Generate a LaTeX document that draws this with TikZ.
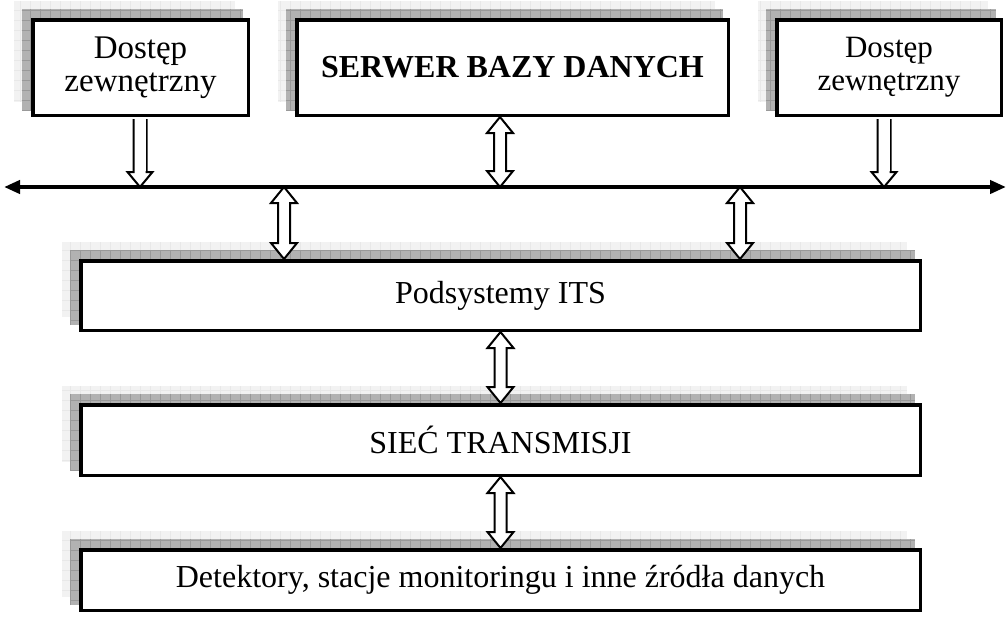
\documentclass[tikz,border=0pt]{standalone}
\usepackage{fontspec}
\setmainfont{Liberation Serif}
\usetikzlibrary{arrows.meta,calc,backgrounds}
\newcommand{\hollowdown}[2]{% #1 start (top), #2 tip
  \draw[harrow] let \p1=(#1), \p2=(#2) in
    (\x1-6.5pt,\y1-2pt) -- (\x1-6.5pt,\y2+15pt) -- (\x1-12.5pt,\y2+15pt) -- (\x1,\y2)
    -- (\x1+12.5pt,\y2+15pt) -- (\x1+6.5pt,\y2+15pt) -- (\x1+6.5pt,\y1-2pt);
  \fill[white] let \p1=(#1), \p2=(#2) in
    (\x1-5.5pt,\y1-2.2pt) rectangle (\x1+5.5pt,\y2+16pt);
}
\newcommand{\hollowboth}[2]{% #1 top tip, #2 bottom tip
  \draw[harrow] let \p1=(#1), \p2=(#2) in
    (\x1,\y1) -- (\x1+13pt,\y1-16pt) -- (\x1+6pt,\y1-16pt) -- (\x1+6pt,\y2+16pt)
    -- (\x1+13pt,\y2+16pt) -- (\x1,\y2) -- (\x1-13pt,\y2+16pt) -- (\x1-6pt,\y2+16pt)
    -- (\x1-6pt,\y1-16pt) -- (\x1-13pt,\y1-16pt) -- cycle;
}
\newcommand{\boxshadow}[1]{%
  \fill[lightshadow] ($(#1.north west)+(-17,-17)$) rectangle ($(#1.south east)+(-15,-15)$);
  \draw[lightgrid] ($(#1.north west)+(-17,-17)$) grid ($(#1.south east)+(-15,-15)$);
  \fill[darkshadow] ($(#1.north west)+(-9,-9)$) rectangle ($(#1.south east)+(-7,-7)$);
  \draw[darkgrid] ($(#1.north west)+(-9,-9)$) grid ($(#1.south east)+(-7,-7)$);
}
\begin{document}
\begin{tikzpicture}[x=1pt,y=-1pt,
  box/.style={draw=black, line width=3.5pt, fill=white, rectangle, inner sep=0pt,
    align=center, font=\fontsize{32}{33}\selectfont},
  topbox/.style={box, minimum height=95.5pt},
  wide/.style={box, minimum width=839.5pt},
  lightshadow/.style={fill=black!5},
  lightgrid/.style={draw=black!9, line width=0.4pt, step=10pt},
  darkshadow/.style={fill=black!30},
  darkgrid/.style={draw=black!40, line width=0.4pt, step=10pt},
  harrow/.style={draw=black, fill=white, line width=2pt, line join=miter},
  bus/.style={draw=black, line width=4pt, {Triangle[length=16pt,width=13pt]}-{Triangle[length=16pt,width=13pt]}}
]
\useasboundingbox (0,0) rectangle (1008,616);
\node[topbox, minimum width=215.5pt, font=\fontsize{33}{33}\selectfont] (b1) at (140.5,67.5) {Dostęp\\zewnętrzny};
\node[topbox, minimum width=431.5pt, font=\bfseries\fontsize{32}{33}\selectfont] (b2) at (512.5,67.5) {SERWER BAZY DANYCH};
\node[topbox, minimum width=224.5pt, font=\fontsize{31}{33}\selectfont] (b3) at (889,67.5) {Dostęp\\zewnętrzny};
\node[wide, minimum height=69.5pt] (b4) at (500.5,295.5) {Podsystemy ITS};
\node[wide, minimum height=70.5pt] (b5) at (500.5,440) {SIEĆ TRANSMISJI};
\node[wide, minimum height=60.5pt] (b6) at (500.5,580) {\raisebox{-3pt}{Detektory, stacje monitoringu i inne źródła danych}};
\begin{scope}[on background layer]
  \boxshadow{b1}
  \boxshadow{b2}
  \boxshadow{b3}
  \boxshadow{b4}
  \boxshadow{b5}
  \boxshadow{b6}
\end{scope}
\coordinate (busL) at (4,187);
\coordinate (busR) at (1006,187);
\draw[bus] (busL) -- (busR);
\coordinate (p1) at (140,187);
\coordinate (p2) at (500,187);
\coordinate (p3) at (884,187);
\coordinate (p4) at (284,187);
\coordinate (p5) at (740,187);
\hollowdown{p1 |- b1.south}{p1}
\hollowdown{p3 |- b3.south}{p3}
\hollowboth{p2 |- b2.south}{p2}
\hollowboth{p4}{p4 |- b4.north}
\hollowboth{p5}{p5 |- b4.north}
\hollowboth{b4.south}{b5.north}
\hollowboth{b5.south}{b6.north}
\end{tikzpicture}
\end{document}
